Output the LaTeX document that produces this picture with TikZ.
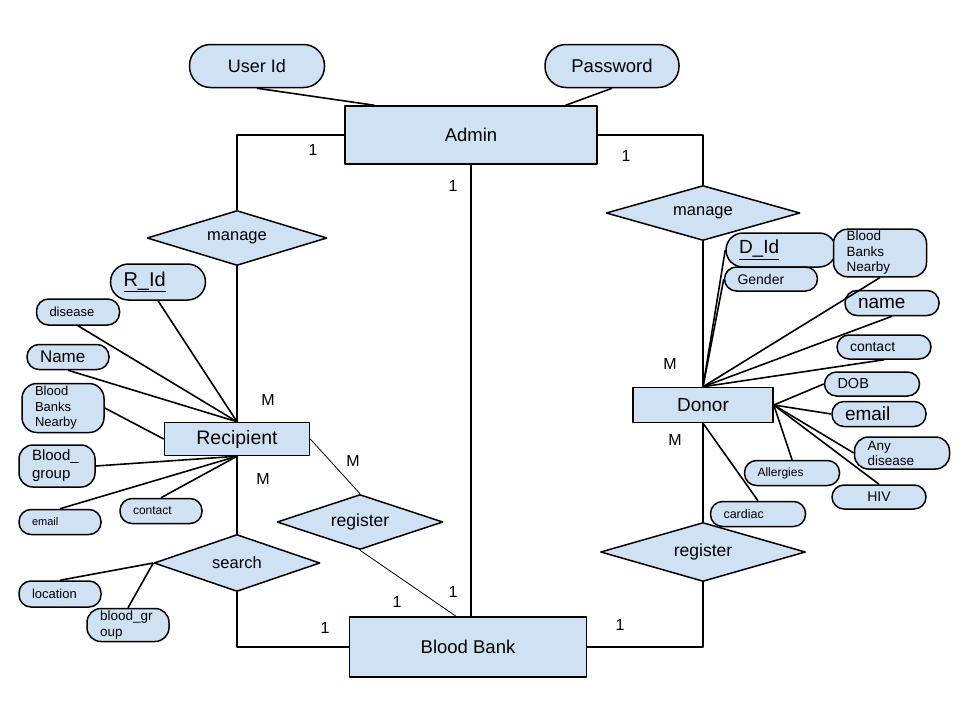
\documentclass[tikz,border=0pt]{standalone}
\usepackage{fontspec}
\setmainfont{Liberation Sans}
\usetikzlibrary{shapes.geometric,calc}
\definecolor{erblue}{RGB}{207,226,243}
\newcommand{\erfs}[2]{\fontsize{#1}{#2}\selectfont}
\tikzset{
  er/.style={
    line join=round
  },
  link/.style={line width=1.6pt},
  thin-link/.style={line width=0.8pt},
  entity-box/.style={
    draw=black,
    fill=erblue,
    line width=1.5pt,
    inner sep=0pt
  },
  rel-diamond/.style={
    diamond,
    aspect=3,
    draw=black,
    fill=erblue,
    line width=1.5pt,
    inner sep=0pt
  },
  attr-blue/.style={
    draw=black,
    fill=erblue,
    line width=1.5pt,
    rounded corners=12pt,
    inner sep=2pt,
    align=left
  },
  attr-left/.style={
    attr-blue,
    inner xsep=13pt,
    text width=#1
  },
  mult/.style={inner sep=0pt, font=\erfs{16}{16}}
}
\newcommand{\erframe}{%
  \useasboundingbox (0,0) rectangle (960,720);
}

\begin{document}
\begin{tikzpicture}[x=1pt, y=-1pt, er]
  \erframe
  \node[entity-box, minimum width=252pt, minimum height=58pt, font=\erfs{18.5}{20}] (admin) at (471,135) {Admin};
  \node[entity-box, minimum width=145pt, minimum height=33pt, font=\erfs{19.5}{21}] (rec) at (237,439) {Recipient};
  \node[entity-box, minimum width=140pt, minimum height=35pt, font=\erfs{19}{21}] (don) at (703,405) {Donor};
  \node[entity-box, minimum width=237pt, minimum height=60pt, font=\erfs{18.5}{20}] (bb) at (468,647) {Blood Bank};
  \node[rel-diamond, minimum width=180pt, minimum height=55pt, font=\erfs{16.5}{18}] (mgl) at (237,238) {manage};
  \node[rel-diamond, minimum width=194pt, minimum height=55pt, font=\erfs{16.5}{18}] (mgr) at (703,213) {manage};
  \node[rel-diamond, minimum width=166pt, minimum height=57pt, font=\erfs{16.5}{18}] (srch) at (237,563) {search};
  \node[rel-diamond, minimum width=166pt, minimum height=55pt, font=\erfs{17.5}{19}] (regl) at (360,522) {register};
  \node[rel-diamond, minimum width=205pt, minimum height=59pt, font=\erfs{17.5}{19}] (regr) at (703,552) {register};

  \node[attr-blue, rounded corners=21pt, minimum width=135pt, minimum height=43pt, font=\erfs{18}{20}] (uid) at (257,66) {User Id};
  \node[attr-blue, rounded corners=21pt, minimum width=134pt, minimum height=43pt, font=\erfs{18.5}{20}] (pwd) at (612,66) {Password};

  \node[attr-left=69pt, rounded corners=18pt, minimum height=36pt, font=\erfs{20}{22}] (rid) at (158,282) {\underline{R\_Id}};
  \node[attr-left=57pt, minimum height=26pt, font=\erfs{13}{15}] (dis) at (78,312) {disease};
  \node[attr-left=56pt, minimum height=25pt, font=\erfs{17}{19}] (nml) at (68,357) {Name};
  \node[attr-left=56pt, rounded corners=15pt, minimum height=49pt, font=\erfs{13}{15.5}] (bbnl) at (63,408) {Blood\\Banks\\Nearby};
  \node[attr-left=50pt, rounded corners=14pt, minimum height=42pt, font=\erfs{15}{18}] (bgl) at (57,466) {Blood\_\\group};
  \node[attr-left=56pt, minimum height=25pt, font=\erfs{11}{13}] (emll) at (60,522) {email};
  \node[attr-left=56pt, minimum height=25pt, font=\erfs{12}{14}] (conl) at (161,511) {contact};
  \node[attr-left=56pt, minimum height=26pt, font=\erfs{13}{15}] (loc) at (60,594) {location};
  \node[attr-left=56pt, rounded corners=14pt, minimum height=33pt, font=\erfs{13.5}{16}] (bgr) at (128,625) {blood\_gr\\oup};

  \node[attr-left=84pt, rounded corners=17pt, minimum height=34pt, font=\erfs{19}{21}] (did) at (781,250) {\underline{D\_Id}};
  \node[attr-left=67pt, rounded corners=14pt, minimum height=46pt, font=\erfs{13.5}{15.5}] (bbnr) at (880,253) {Blood\\Banks\\Nearby};
  \node[attr-left=67pt, minimum height=24pt, font=\erfs{14}{16}] (gen) at (771,279) {Gender};
  \node[attr-left=68pt, minimum height=25pt, font=\erfs{19}{21}] (nmr) at (892,303) {name};
  \node[attr-left=68pt, minimum height=24pt, font=\erfs{14}{16}] (conr) at (884,347) {contact};
  \node[attr-left=69pt, minimum height=24pt, font=\erfs{14.5}{16}] (dob) at (872,384) {DOB};
  \node[attr-left=68pt, minimum height=25pt, font=\erfs{19}{21}] (emr) at (879,414) {email};
  \node[attr-left=69pt, rounded corners=14pt, minimum height=32pt, font=\erfs{13.5}{15}] (anyd) at (902,453) {Any\\disease};
  \node[attr-blue, minimum width=94pt, minimum height=24pt, font=\erfs{14}{16}] (hiv) at (879,497) {HIV};
  \node[attr-left=69pt, minimum height=25pt, font=\erfs{12}{14}] (alg) at (792,473) {Allergies};
  \node[attr-left=69pt, minimum height=25pt, font=\erfs{12.5}{14}] (card) at (758,514) {cardiac};

  \draw[link] (uid.south) -- ($(admin.north west)+(30,0)$);
  \draw[link] (pwd.south) -- ($(admin.north east)+(-32,0)$);
  \draw[link] (admin.west) -| (mgl.north);
  \draw[link] (admin.east) -| (mgr.north);
  \draw[link] (admin.south) -- (admin.south |- bb.north);
  \draw[link] (mgl.south) -- (rec.north);
  \draw[link] (mgr.south) -- (don.north);
  \draw[link] (rec.south) -- (srch.north);
  \draw[link] (srch.south) |- (bb.west);
  \draw[link] (don.south) -- (regr.north);
  \draw[link] (regr.south) |- (bb.east);
  \draw[thin-link] (rec.east) -- (regl.north);
  \draw[thin-link] (regl.south) -- ($(bb.north)+(-12,0)$);

  \foreach \a in {rid,dis,nml}
    \draw[link] (\a.south) -- (rec.north);
  \draw[link] (bbnl.east) -- (rec.west);
  \draw[link] (bgl.east) -- (rec.south);
  \foreach \a in {emll,conl}
    \draw[link] (\a.north) -- (rec.south);
  \foreach \a in {loc,bgr}
    \draw[link] (\a.north) -- (srch.west);
  \foreach \a in {did,gen}
    \draw[link] (\a.west) -- (don.north);
  \foreach \a in {bbnr,nmr,conr}
    \draw[link] (\a.south) -- (don.north);
  \foreach \a in {dob,emr,anyd}
    \draw[link] (\a.west) -- (don.east);
  \foreach \a in {hiv,alg}
    \draw[link] (\a.north) -- (don.east);
  \draw[link] (card.north) -- (don.south);

  \node[mult] (m-a1) at (313,150) {1};
  \node[mult] (m-a2) at (626,156) {1};
  \node[mult] (m-a3) at (453,186) {1};
  \node[mult] (m-b1) at (325,628) {1};
  \node[mult] (m-b2) at (397,602) {1};
  \node[mult] (m-b3) at (453,592) {1};
  \node[mult] (m-b4) at (620,625) {1};
  \node[mult] (m-r1) at (268,400) {M};
  \node[mult] (m-r2) at (263,479) {M};
  \node[mult] (m-r3) at (353,461) {M};
  \node[mult] (m-d1) at (670,364) {M};
  \node[mult] (m-d2) at (675,440) {M};
\end{tikzpicture}
\end{document}
